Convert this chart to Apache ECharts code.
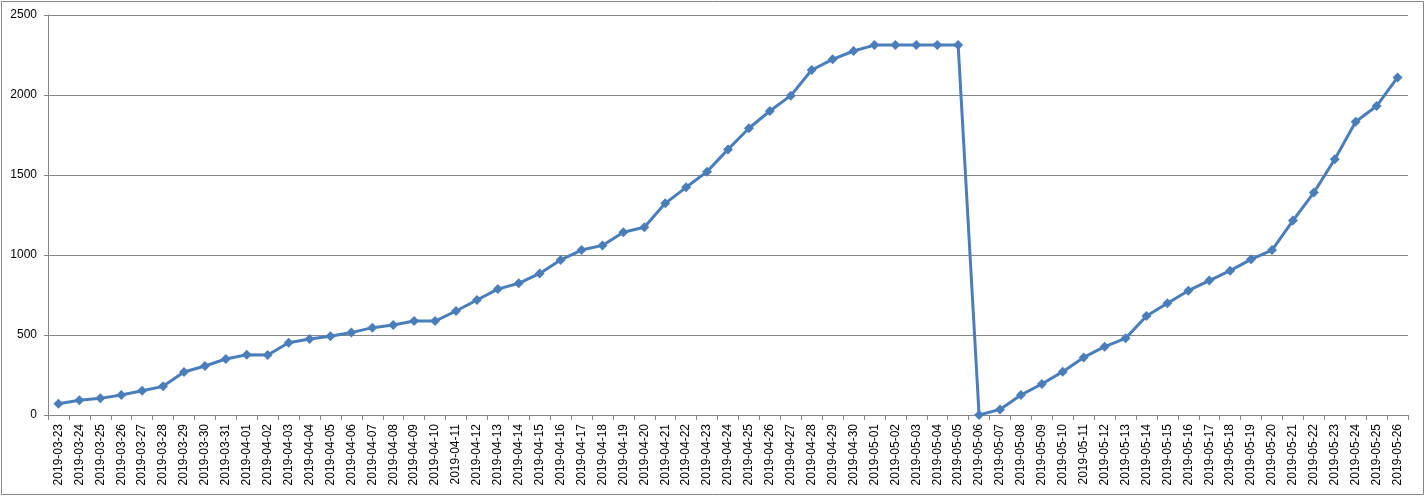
<!DOCTYPE html>
<html>
<head>
<meta charset="utf-8">
<style>
  html, body { margin: 0; padding: 0; background: #fff; }
  #chart { width: 1426px; height: 497px; }
</style>
<script src="https://cdn.jsdelivr.net/npm/echarts@6/dist/echarts.min.js"></script>
</head>
<body>
<div id="chart"></div>
<script>
const dates = [
  '2019-03-23', '2019-03-24', '2019-03-25', '2019-03-26', '2019-03-27', '2019-03-28', '2019-03-29',
  '2019-03-30', '2019-03-31', '2019-04-01', '2019-04-02', '2019-04-03', '2019-04-04', '2019-04-05',
  '2019-04-06', '2019-04-07', '2019-04-08', '2019-04-09', '2019-04-10', '2019-04-11', '2019-04-12',
  '2019-04-13', '2019-04-14', '2019-04-15', '2019-04-16', '2019-04-17', '2019-04-18', '2019-04-19',
  '2019-04-20', '2019-04-21', '2019-04-22', '2019-04-23', '2019-04-24', '2019-04-25', '2019-04-26',
  '2019-04-27', '2019-04-28', '2019-04-29', '2019-04-30', '2019-05-01', '2019-05-02', '2019-05-03',
  '2019-05-04', '2019-05-05', '2019-05-06', '2019-05-07', '2019-05-08', '2019-05-09', '2019-05-10',
  '2019-05-11', '2019-05-12', '2019-05-13', '2019-05-14', '2019-05-15', '2019-05-16', '2019-05-17',
  '2019-05-18', '2019-05-19', '2019-05-20', '2019-05-21', '2019-05-22', '2019-05-23', '2019-05-24',
  '2019-05-25', '2019-05-26'
]

const marchValues = [70, 92, 104, 125, 152, 179, 269, 306, 350]
const aprilValues = [
  377, 375, 452, 475, 492, 515, 546, 562, 587, 587,
  650, 719, 787, 823, 885, 969, 1031, 1060, 1142, 1173,
  1323, 1423, 1521, 1660, 1792, 1900, 1996, 2156, 2223, 2275
]
const mayValues = [
  2312, 2312, 2312, 2312, 2312, 0, 35, 125, 194, 271,
  360, 427, 479, 619, 698, 777, 840, 902, 973, 1031,
  1215, 1390, 1598, 1833, 1931, 2110
]
const values = [...marchValues, ...aprilValues, ...mayValues]

const yTicks = [0, 500, 1000, 1500, 2000, 2500]

const axisGray = '#868686'
const lineBlue = '#4a7ebb'
const font = 'Liberation Sans, Arial, sans-serif'

const chart = echarts.init(document.getElementById('chart'))

chart.setOption({
  backgroundColor: '#fff',
  animation: false,
  graphic: [{
    type: 'rect',
    shape: { x: 1.5, y: 1.5, width: 1422, height: 493 },
    style: { fill: 'none', stroke: axisGray, lineWidth: 1 },
    silent: true
  }],
  grid: { left: 48, right: 18, top: 15, bottom: 82, containLabel: false },
  xAxis: {
    type: 'category',
    data: dates,
    boundaryGap: true,
    axisLine: { lineStyle: { color: axisGray, width: 1 } },
    axisTick: { show: true, alignWithLabel: false, length: 5, inside: false, lineStyle: { color: axisGray } },
    axisLabel: {
      interval: 0,
      rotate: 90,
      margin: 9,
      color: '#000',
      fontSize: 12,
      fontFamily: font
    },
    splitLine: { show: false }
  },
  yAxis: {
    type: 'value',
    min: yTicks[0],
    max: yTicks[yTicks.length - 1],
    interval: 500,
    axisLine: { show: true, lineStyle: { color: axisGray, width: 1 } },
    axisTick: { show: true, length: 4, lineStyle: { color: axisGray } },
    axisLabel: {
      margin: 11,
      color: '#000',
      fontSize: 12,
      fontFamily: font,
      formatter: v => String(v)
    },
    splitLine: { show: true, lineStyle: { color: axisGray, width: 1 } }
  },
  series: [{
    type: 'line',
    data: values,
    symbol: 'diamond',
    symbolSize: 10,
    showAllSymbol: true,
    lineStyle: { color: lineBlue, width: 3 },
    itemStyle: { color: lineBlue, borderWidth: 0 }
  }]
})
</script>
</body>
</html>
